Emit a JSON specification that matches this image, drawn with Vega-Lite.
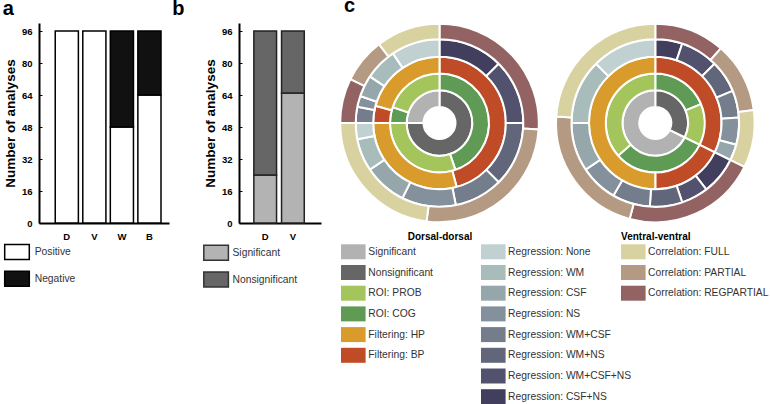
{
  "$schema": "https://vega.github.io/schema/vega-lite/v6.json",
  "padding": {"left": 2, "top": -5, "right": 0, "bottom": 0},
  "config": {
    "font": "Liberation Sans",
    "view": {"stroke": null},
    "title": {"fontSize": 20, "fontWeight": "bold", "anchor": "start", "frame": "group", "color": "black", "baseline": "alphabetic", "offset": 3.9},
    "axis": {"grid": false, "domainColor": "black", "tickColor": "black", "labelColor": "black", "titleColor": "black", "labelFontWeight": "bold", "labelFontSize": 9.5},
    "legend": {"padding": 0, "labelFontSize": 10.3, "labelColor": "#333333", "symbolSize": 225, "symbolType": "M-1.64,-1H1.64V1H-1.64Z", "rowPadding": 5.7, "symbolOpacity": 1}
  },
  "resolve": {"scale": {"color": "independent"}, "legend": {"color": "independent"}},
  "spacing": 15,
  "hconcat": [
    {
      "spacing": 3,
      "resolve": {"scale": {"color": "independent"}, "legend": {"color": "independent"}},
      "hconcat": [
        {
          "title": {"text": "a", "dx": -36.3},
          "width": 130,
          "height": 200,
          "data": {"values": [
            {"group": "D", "sign": "Positive", "n": 96},
            {"group": "V", "sign": "Positive", "n": 96},
            {"group": "W", "sign": "Positive", "n": 48},
            {"group": "W", "sign": "Negative", "n": 48},
            {"group": "B", "sign": "Positive", "n": 64},
            {"group": "B", "sign": "Negative", "n": 32}
          ]},
          "mark": {"type": "bar", "stroke": "black", "strokeWidth": 1.5},
          "encoding": {
            "x": {"field": "group", "type": "nominal", "sort": ["D", "V", "W", "B"], "scale": {"paddingInner": 0.16, "paddingOuter": 0.44, "align": 0.67}, "axis": {"title": null, "labelAngle": 0, "ticks": false, "domainWidth": 2, "labelPadding": 8}},
            "y": {"field": "n", "type": "quantitative", "stack": "zero", "scale": {"domain": [0, 100], "nice": false}, "axis": {"title": "Number of analyses", "titleFontSize": 13.5, "titleFontWeight": "bold", "values": [0, 16, 32, 48, 64, 80, 96], "tickSize": -3, "labelPadding": 10, "domainWidth": 2, "titlePadding": 4}},
            "color": {"field": "sign", "type": "nominal", "scale": {"domain": ["Positive", "Negative"], "range": ["#ffffff", "#111111"]}, "legend": {"title": null, "orient": "none", "legendX": -30.5, "legendY": 220.6, "labelOffset": 9.2, "symbolStrokeColor": "black", "symbolStrokeWidth": 1.5}},
            "order": {"field": "sign", "sort": "descending"}
          }
        },
        {
          "title": {"text": "b", "dx": -66.8},
          "width": 82,
          "height": 200,
          "data": {"values": [
            {"group": "D", "sig": "Significant", "n": 24},
            {"group": "D", "sig": "Nonsignificant", "n": 72},
            {"group": "V", "sig": "Significant", "n": 65},
            {"group": "V", "sig": "Nonsignificant", "n": 31}
          ]},
          "mark": {"type": "bar", "stroke": "#222222", "strokeWidth": 1.5},
          "encoding": {
            "x": {"field": "group", "type": "nominal", "sort": ["D", "V"], "scale": {"paddingInner": 0.18, "paddingOuter": 0.57, "align": 0.47}, "axis": {"title": null, "labelAngle": 0, "ticks": false, "domainWidth": 2, "labelPadding": 8}},
            "y": {"field": "n", "type": "quantitative", "stack": "zero", "scale": {"domain": [0, 100], "nice": false}, "axis": {"title": "Number of analyses", "titleFontSize": 13.5, "titleFontWeight": "bold", "values": [0, 16, 32, 48, 64, 80, 96], "tickSize": -3, "labelPadding": 10, "domainWidth": 2, "titlePadding": 4}},
            "color": {"field": "sig", "type": "nominal", "scale": {"domain": ["Significant", "Nonsignificant"], "range": ["#b3b3b3", "#666666"]}, "legend": {"title": null, "orient": "none", "legendX": -31.4, "legendY": 221.3, "labelOffset": 7.9, "symbolStrokeColor": "#333333", "symbolStrokeWidth": 1.5}},
            "order": {"field": "sig", "sort": "descending"}
          }
        }
      ]
    },
    {
      "title": {"text": "c", "dx": 3},
      "width": 425,
      "height": 200,
      "data": {"values": [
        {"panel": "Dorsal-dorsal", "ring": 1, "sig": "Nonsignificant", "level": "Nonsignificant", "k": 1, "n": 72},
        {"panel": "Dorsal-dorsal", "ring": 1, "sig": "Significant", "level": "Significant", "k": 0, "n": 24},
        {"panel": "Dorsal-dorsal", "ring": 2, "sig": "Nonsignificant", "level": "ROI: COG", "k": 1, "n": 43},
        {"panel": "Dorsal-dorsal", "ring": 2, "sig": "Nonsignificant", "level": "ROI: PROB", "k": 0, "n": 29},
        {"panel": "Dorsal-dorsal", "ring": 2, "sig": "Significant", "level": "ROI: COG", "k": 1, "n": 5},
        {"panel": "Dorsal-dorsal", "ring": 2, "sig": "Significant", "level": "ROI: PROB", "k": 0, "n": 19},
        {"panel": "Dorsal-dorsal", "ring": 3, "sig": "Nonsignificant", "level": "Filtering: BP", "k": 1, "n": 44},
        {"panel": "Dorsal-dorsal", "ring": 3, "sig": "Nonsignificant", "level": "Filtering: HP", "k": 0, "n": 28},
        {"panel": "Dorsal-dorsal", "ring": 3, "sig": "Significant", "level": "Filtering: BP", "k": 1, "n": 4},
        {"panel": "Dorsal-dorsal", "ring": 3, "sig": "Significant", "level": "Filtering: HP", "k": 0, "n": 20},
        {"panel": "Dorsal-dorsal", "ring": 4, "sig": "Nonsignificant", "level": "Regression: CSF+NS", "k": 7, "n": 12},
        {"panel": "Dorsal-dorsal", "ring": 4, "sig": "Nonsignificant", "level": "Regression: WM+CSF+NS", "k": 6, "n": 12},
        {"panel": "Dorsal-dorsal", "ring": 4, "sig": "Nonsignificant", "level": "Regression: WM+NS", "k": 5, "n": 12},
        {"panel": "Dorsal-dorsal", "ring": 4, "sig": "Nonsignificant", "level": "Regression: WM+CSF", "k": 4, "n": 9},
        {"panel": "Dorsal-dorsal", "ring": 4, "sig": "Nonsignificant", "level": "Regression: NS", "k": 3, "n": 10},
        {"panel": "Dorsal-dorsal", "ring": 4, "sig": "Nonsignificant", "level": "Regression: CSF", "k": 2, "n": 8},
        {"panel": "Dorsal-dorsal", "ring": 4, "sig": "Nonsignificant", "level": "Regression: WM", "k": 1, "n": 6},
        {"panel": "Dorsal-dorsal", "ring": 4, "sig": "Nonsignificant", "level": "Regression: None", "k": 0, "n": 3},
        {"panel": "Dorsal-dorsal", "ring": 4, "sig": "Significant", "level": "Regression: WM+CSF", "k": 4, "n": 3},
        {"panel": "Dorsal-dorsal", "ring": 4, "sig": "Significant", "level": "Regression: NS", "k": 3, "n": 2},
        {"panel": "Dorsal-dorsal", "ring": 4, "sig": "Significant", "level": "Regression: CSF", "k": 2, "n": 4},
        {"panel": "Dorsal-dorsal", "ring": 4, "sig": "Significant", "level": "Regression: WM", "k": 1, "n": 6},
        {"panel": "Dorsal-dorsal", "ring": 4, "sig": "Significant", "level": "Regression: None", "k": 0, "n": 9},
        {"panel": "Dorsal-dorsal", "ring": 5, "sig": "Nonsignificant", "level": "Correlation: REGPARTIAL", "k": 2, "n": 25},
        {"panel": "Dorsal-dorsal", "ring": 5, "sig": "Nonsignificant", "level": "Correlation: PARTIAL", "k": 1, "n": 25},
        {"panel": "Dorsal-dorsal", "ring": 5, "sig": "Nonsignificant", "level": "Correlation: FULL", "k": 0, "n": 22},
        {"panel": "Dorsal-dorsal", "ring": 5, "sig": "Significant", "level": "Correlation: REGPARTIAL", "k": 2, "n": 7},
        {"panel": "Dorsal-dorsal", "ring": 5, "sig": "Significant", "level": "Correlation: PARTIAL", "k": 1, "n": 7},
        {"panel": "Dorsal-dorsal", "ring": 5, "sig": "Significant", "level": "Correlation: FULL", "k": 0, "n": 10},
        {"panel": "Ventral-ventral", "ring": 1, "sig": "Nonsignificant", "level": "Nonsignificant", "k": 1, "n": 31},
        {"panel": "Ventral-ventral", "ring": 1, "sig": "Significant", "level": "Significant", "k": 0, "n": 65},
        {"panel": "Ventral-ventral", "ring": 2, "sig": "Nonsignificant", "level": "ROI: COG", "k": 1, "n": 18},
        {"panel": "Ventral-ventral", "ring": 2, "sig": "Nonsignificant", "level": "ROI: PROB", "k": 0, "n": 13},
        {"panel": "Ventral-ventral", "ring": 2, "sig": "Significant", "level": "ROI: COG", "k": 1, "n": 30},
        {"panel": "Ventral-ventral", "ring": 2, "sig": "Significant", "level": "ROI: PROB", "k": 0, "n": 35},
        {"panel": "Ventral-ventral", "ring": 3, "sig": "Nonsignificant", "level": "Filtering: BP", "k": 1, "n": 31},
        {"panel": "Ventral-ventral", "ring": 3, "sig": "Significant", "level": "Filtering: BP", "k": 1, "n": 17},
        {"panel": "Ventral-ventral", "ring": 3, "sig": "Significant", "level": "Filtering: HP", "k": 0, "n": 48},
        {"panel": "Ventral-ventral", "ring": 4, "sig": "Nonsignificant", "level": "Regression: CSF+NS", "k": 7, "n": 5},
        {"panel": "Ventral-ventral", "ring": 4, "sig": "Nonsignificant", "level": "Regression: WM+CSF+NS", "k": 6, "n": 7},
        {"panel": "Ventral-ventral", "ring": 4, "sig": "Nonsignificant", "level": "Regression: WM+NS", "k": 5, "n": 6},
        {"panel": "Ventral-ventral", "ring": 4, "sig": "Nonsignificant", "level": "Regression: WM+CSF", "k": 4, "n": 5},
        {"panel": "Ventral-ventral", "ring": 4, "sig": "Nonsignificant", "level": "Regression: NS", "k": 3, "n": 5},
        {"panel": "Ventral-ventral", "ring": 4, "sig": "Nonsignificant", "level": "Regression: CSF", "k": 2, "n": 3},
        {"panel": "Ventral-ventral", "ring": 4, "sig": "Significant", "level": "Regression: CSF+NS", "k": 7, "n": 7},
        {"panel": "Ventral-ventral", "ring": 4, "sig": "Significant", "level": "Regression: WM+CSF+NS", "k": 6, "n": 5},
        {"panel": "Ventral-ventral", "ring": 4, "sig": "Significant", "level": "Regression: WM+NS", "k": 5, "n": 6},
        {"panel": "Ventral-ventral", "ring": 4, "sig": "Significant", "level": "Regression: WM+CSF", "k": 4, "n": 7},
        {"panel": "Ventral-ventral", "ring": 4, "sig": "Significant", "level": "Regression: NS", "k": 3, "n": 7},
        {"panel": "Ventral-ventral", "ring": 4, "sig": "Significant", "level": "Regression: CSF", "k": 2, "n": 9},
        {"panel": "Ventral-ventral", "ring": 4, "sig": "Significant", "level": "Regression: WM", "k": 1, "n": 12},
        {"panel": "Ventral-ventral", "ring": 4, "sig": "Significant", "level": "Regression: None", "k": 0, "n": 12},
        {"panel": "Ventral-ventral", "ring": 5, "sig": "Nonsignificant", "level": "Correlation: REGPARTIAL", "k": 2, "n": 11},
        {"panel": "Ventral-ventral", "ring": 5, "sig": "Nonsignificant", "level": "Correlation: PARTIAL", "k": 1, "n": 11},
        {"panel": "Ventral-ventral", "ring": 5, "sig": "Nonsignificant", "level": "Correlation: FULL", "k": 0, "n": 9},
        {"panel": "Ventral-ventral", "ring": 5, "sig": "Significant", "level": "Correlation: REGPARTIAL", "k": 2, "n": 21},
        {"panel": "Ventral-ventral", "ring": 5, "sig": "Significant", "level": "Correlation: PARTIAL", "k": 1, "n": 21},
        {"panel": "Ventral-ventral", "ring": 5, "sig": "Significant", "level": "Correlation: FULL", "k": 0, "n": 23}
      ]},
      "transform": [
        {"stack": "n", "groupby": ["panel", "ring"], "sort": [{"field": "sig", "order": "ascending"}, {"field": "k", "order": "descending"}], "as": ["t0", "t1"]}
      ],
      "encoding": {
        "x": {"field": "panel", "type": "nominal", "sort": ["Dorsal-dorsal", "Ventral-ventral"], "scale": {"type": "point", "padding": 0, "range": [98.5, 314.3]}, "axis": {"title": null, "domain": false, "ticks": false, "labelAngle": 0, "labelFontSize": 10, "labelPadding": 8}},
        "theta": {"field": "t0", "type": "quantitative", "scale": {"domain": [0, 96]}},
        "theta2": {"field": "t1"}
      },
      "resolve": {"scale": {"color": "independent"}, "legend": {"color": "independent"}},
      "layer": [
        {
          "layer": [
            {
              "transform": [{"filter": "datum.ring == 1"}],
              "mark": {"type": "arc", "radius": 32.8, "radius2": 16, "stroke": "white", "strokeWidth": 2},
              "encoding": {"color": {"field": "level", "type": "nominal", "scale": {"domain": ["Significant", "Nonsignificant", "ROI: PROB", "ROI: COG", "Filtering: HP", "Filtering: BP"], "range": ["#b2b2b2", "#666666", "#a4c45c", "#609b56", "#d99b2c", "#bf4b27"]}, "legend": {"title": null, "orient": "none", "legendX": 4.8, "legendY": 221.3, "labelOffset": 7.5, "symbolStrokeWidth": 0}}}
            },
            {
              "transform": [{"filter": "datum.ring == 2"}],
              "mark": {"type": "arc", "radius": 49.5, "radius2": 32.8, "stroke": "white", "strokeWidth": 2},
              "encoding": {"color": {"field": "level", "type": "nominal", "scale": {"domain": ["Significant", "Nonsignificant", "ROI: PROB", "ROI: COG", "Filtering: HP", "Filtering: BP"], "range": ["#b2b2b2", "#666666", "#a4c45c", "#609b56", "#d99b2c", "#bf4b27"]}, "legend": {"title": null, "orient": "none", "legendX": 4.8, "legendY": 221.3, "labelOffset": 7.5, "symbolStrokeWidth": 0}}}
            },
            {
              "transform": [{"filter": "datum.ring == 3"}],
              "mark": {"type": "arc", "radius": 66.3, "radius2": 49.5, "stroke": "white", "strokeWidth": 2},
              "encoding": {"color": {"field": "level", "type": "nominal", "scale": {"domain": ["Significant", "Nonsignificant", "ROI: PROB", "ROI: COG", "Filtering: HP", "Filtering: BP"], "range": ["#b2b2b2", "#666666", "#a4c45c", "#609b56", "#d99b2c", "#bf4b27"]}, "legend": {"title": null, "orient": "none", "legendX": 4.8, "legendY": 221.3, "labelOffset": 7.5, "symbolStrokeWidth": 0}}}
            }
          ]
        },
        {
          "transform": [{"filter": "datum.ring == 4"}],
          "mark": {"type": "arc", "radius": 83.8, "radius2": 66.3, "stroke": "white", "strokeWidth": 2},
          "encoding": {"color": {"field": "level", "type": "nominal", "scale": {"domain": ["Regression: None", "Regression: WM", "Regression: CSF", "Regression: NS", "Regression: WM+CSF", "Regression: WM+NS", "Regression: WM+CSF+NS", "Regression: CSF+NS"], "range": ["#c1d1d1", "#a9bcbc", "#95a7ab", "#84919c", "#737d8b", "#62667b", "#52516e", "#413f5d"]}, "legend": {"title": null, "orient": "none", "legendX": 144.8, "legendY": 221.3, "labelOffset": 7.3, "symbolStrokeWidth": 0}}}
        },
        {
          "transform": [{"filter": "datum.ring == 5"}],
          "mark": {"type": "arc", "radius": 99.3, "radius2": 83.8, "stroke": "white", "strokeWidth": 2},
          "encoding": {"color": {"field": "level", "type": "nominal", "scale": {"domain": ["Correlation: FULL", "Correlation: PARTIAL", "Correlation: REGPARTIAL"], "range": ["#d8d2a1", "#b49a83", "#936364"]}, "legend": {"title": null, "orient": "none", "legendX": 284.8, "legendY": 221.3, "labelOffset": 7.3, "symbolStrokeWidth": 0}}}
        }
      ]
    }
  ]
}
